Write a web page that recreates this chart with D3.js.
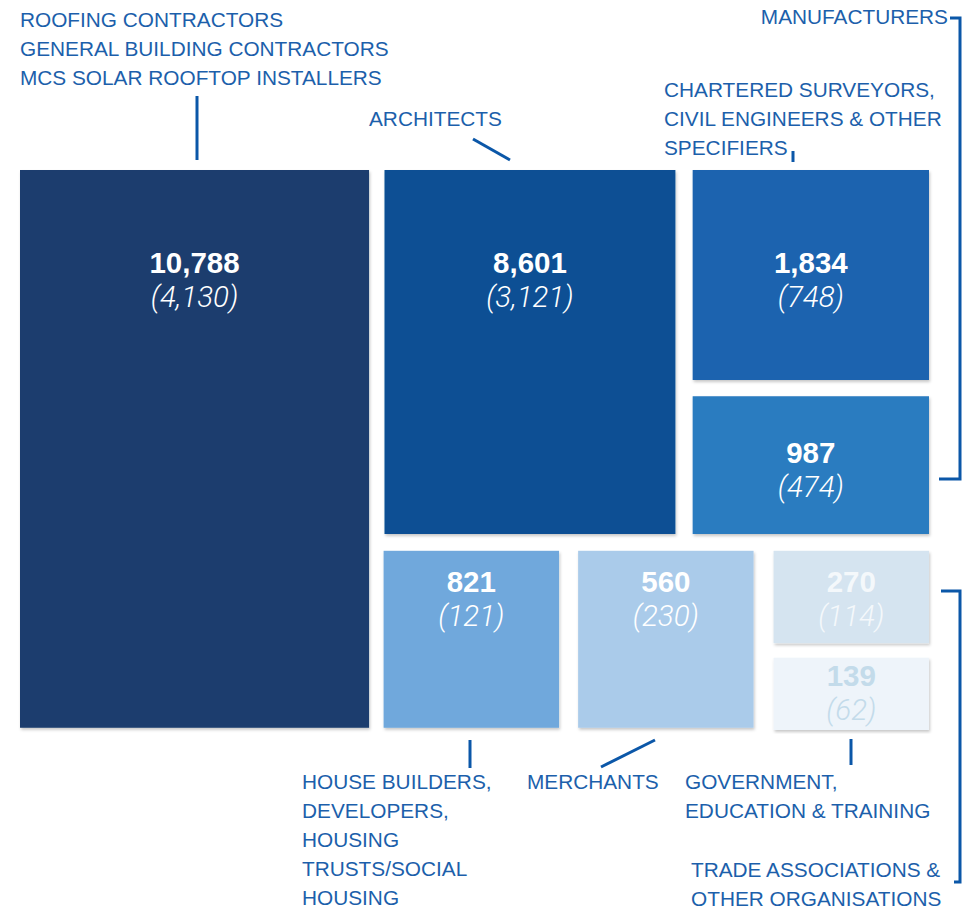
<!DOCTYPE html>
<html>
<head>
<meta charset="utf-8">
<script src="https://cdn.jsdelivr.net/npm/d3@7"></script>
<style>
  body { margin: 0; background: #fff; }
  .lbl { font-family: "Liberation Sans", Arial, sans-serif; font-size: 20.8px; fill: #1c5fab; }
  .num { font-family: "Liberation Sans", Arial, sans-serif; font-size: 29.5px; font-weight: bold; text-anchor: middle; }
  .sub { font-family: Roboto, "Liberation Sans", sans-serif; font-size: 29.5px; font-weight: 300; font-style: italic; text-anchor: middle; }
  .lead { stroke: #0b57a8; stroke-width: 3; fill: none; }
</style>
</head>
<body>
<div id="vis-container"></div>
<script>
// segment totals and (sub counts) as printed in each box
const segments = ["Roofing", "Architects", "Chartered surveyors", "Manufacturers",
                  "House builders", "Merchants", "Government", "Trade associations"];
const totals = [10788, 8601, 1834, 987, 821, 560, 270, 139];
const subs = [4130, 3121, 748, 474, 121, 230, 114, 62];

// box colours and text colours
const fills = ["#1c3e6e", "#0b5094", "#1f63af", "#2c7cc0", "#6fa8dc", "#aacbea", "#d5e4f0", "#eef4fa"];
const inks = ["#fff", "#fff", "#fff", "#fff", "#fff", "#fff", "#f4f8fb", "#c3dbea"];

// hand made layout (fractions of the frame) - the original is not a true treemap
const cells = [
  [0, .384, 0, .996],
  [.401, .721, 0, .65],
  [.740, 1, 0, .375],
  [.740, 1, .404, .65],
  [.400, .593, .680, .996],
  [.614, .807, .680, .996],
  [.829, 1, .680, .845],
  [.829, 1, .871, 1.0]
];
const numDrop = [103, 103, 103, 67, 41, 41, 41, 28];

const width = 973, height = 909;
const svg = d3.select("#vis-container").append("svg")
    .attr("width", width).attr("height", height);

let defs = svg.append("defs");
let f = defs.append("filter").attr("id", "shadow").attr("x", "-5%").attr("y", "-5%").attr("width", "110%").attr("height", "110%");
f.append("feDropShadow").attr("dx", 1).attr("dy", 2).attr("stdDeviation", 1.5)
  .attr("flood-color", "#000").attr("flood-opacity", 0.22);

let x = d3.scaleLinear().domain([0, 1]).range([20, 929]);
let y = d3.scaleLinear().domain([0, 1]).range([170, 730]);

let boxes = segments.map((s, i) => ({
    name: s, total: totals[i], sub: subs[i], fill: fills[i], ink: inks[i], cell: cells[i], drop: numDrop[i]
}));

let fmt = d3.format(",");

let g = svg.append("g");
g.selectAll("rect").data(boxes).enter().append("rect")
    .attr("x", d => x(d.cell[0]))
    .attr("y", d => y(d.cell[2]))
    .attr("width", d => x(d.cell[1]) - x(d.cell[0]))
    .attr("height", d => y(d.cell[3]) - y(d.cell[2]))
    .attr("fill", d => d.fill)
    .attr("filter", "url(#shadow)");

g.selectAll(".num").data(boxes).enter().append("text")
    .attr("class", "num")
    .attr("x", d => (x(d.cell[0]) + x(d.cell[1])) / 2)
    .attr("y", d => y(d.cell[2]) + d.drop)
    .attr("fill", d => d.ink)
    .text(d => fmt(d.total));

g.selectAll(".sub").data(boxes).enter().append("text")
    .attr("class", "sub")
    .attr("x", d => (x(d.cell[0]) + x(d.cell[1])) / 2)
    .attr("y", d => y(d.cell[2]) + d.drop + 34)
    .attr("fill", d => d.ink)
    .text(d => "(" + fmt(d.sub) + ")");

// callout labels
const labels = [
  {x: 20, y: 27, lines: ["ROOFING CONTRACTORS", "GENERAL BUILDING CONTRACTORS", "MCS SOLAR ROOFTOP INSTALLERS"]},
  {x: 369, y: 126, lines: ["ARCHITECTS"]},
  {x: 948, y: 24, lines: ["MANUFACTURERS"], anchor: "end"},
  {x: 664, y: 97, lines: ["CHARTERED SURVEYORS,", "CIVIL ENGINEERS & OTHER", "SPECIFIERS"]},
  {x: 302, y: 789, lines: ["HOUSE BUILDERS,", "DEVELOPERS,", "HOUSING", "TRUSTS/SOCIAL", "HOUSING"]},
  {x: 527, y: 789, lines: ["MERCHANTS"]},
  {x: 685, y: 789, lines: ["GOVERNMENT,", "EDUCATION & TRAINING"]},
  {x: 691, y: 877, lines: ["TRADE ASSOCIATIONS &", "OTHER ORGANISATIONS"]}
];

let lg = svg.append("g");
labels.forEach(l => {
  let t = lg.append("text").attr("class", "lbl")
    .attr("text-anchor", l.anchor || "start");
  l.lines.forEach((line, i) => {
    t.append("tspan").attr("x", l.x).attr("y", l.y + i * 29).text(line);
  });
});

// leader lines
const leaders = [
  [[197, 96], [197, 160]],
  [[473, 139], [510, 160]],
  [[793, 151], [793, 162]],
  [[950, 18], [960, 18], [960, 479], [939, 479]],
  [[470, 740], [470, 768]],
  [[655, 740], [601, 767]],
  [[851, 739], [851, 765]],
  [[941, 591], [960, 591], [960, 882], [954, 882]]
];
let line = d3.line();
lg.selectAll(".lead").data(leaders).enter().append("path")
  .attr("class", "lead")
  .attr("d", d => line(d));
</script>
</body>
</html>
